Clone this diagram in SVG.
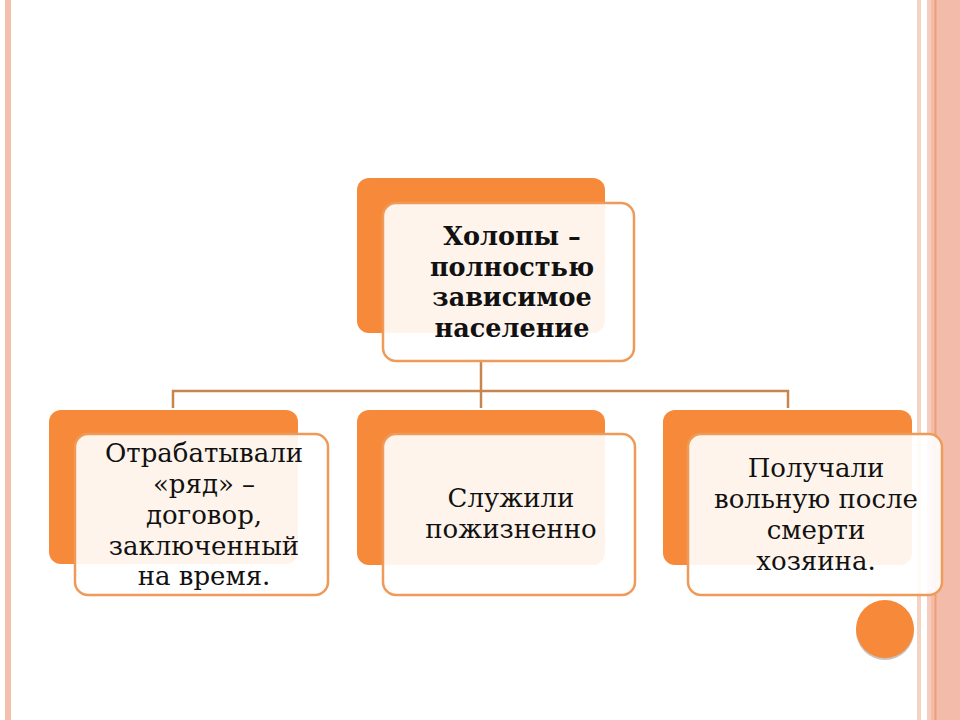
<svg xmlns="http://www.w3.org/2000/svg" width="960" height="720" viewBox="0 0 960 720">
<style>
.back{fill:#f68a3a}
.front{fill:#ffffff;fill-opacity:0.9;stroke:#ef9a58;stroke-width:2.5}
.t{font-family:"DejaVu Serif","Liberation Serif",serif;font-size:26px;fill:#111;text-anchor:middle}
.b{font-weight:bold;font-size:25.5px}
.conn{fill:none;stroke:#c8864f;stroke-width:2.5}
</style>
<rect width="960" height="720" fill="#ffffff"/>
<rect x="5" y="0" width="6" height="720" fill="#f4bfae"/>
<rect x="917" y="0" width="4" height="720" fill="#f6d2c3"/>
<rect x="927" y="0" width="33" height="720" fill="#f3bcaa"/>
<rect x="927" y="0" width="4" height="720" fill="#f6cdbd"/>
<rect x="934.5" y="0" width="2" height="720" fill="#ee9f75"/>
<g id="connectors">
<path class="conn" d="M481 361 V391 M173 408 V391 H788 V408 M481 391 V408"/>
</g>
<g id="n0">
<rect class="back" x="357" y="178" width="248" height="155" rx="12"/>
<rect class="front" x="383" y="203" width="251" height="158" rx="13"/>
<text class="t b" x="512"><tspan x="512" y="245">Холопы –</tspan><tspan x="512" y="276">полностью</tspan><tspan x="512" y="306">зависимое</tspan><tspan x="512" y="337">население</tspan></text>
</g>
<g id="n1">
<rect class="back" x="49" y="410" width="249" height="154" rx="12"/>
<rect class="front" x="75" y="434" width="253" height="161" rx="13"/>
<text class="t" x="204"><tspan x="204" y="462">Отрабатывали</tspan><tspan x="204" y="493">«ряд» –</tspan><tspan x="204" y="524">договор,</tspan><tspan x="204" y="555">заключенный</tspan><tspan x="204" y="585">на время.</tspan></text>
</g>
<g id="n2">
<rect class="back" x="357" y="410" width="248" height="155" rx="12"/>
<rect class="front" x="383" y="434" width="252" height="161" rx="13"/>
<text class="t" x="511"><tspan x="511" y="507">Служили</tspan><tspan x="511" y="538">пожизненно</tspan></text>
</g>
<g id="n3">
<rect class="back" x="663" y="410" width="249" height="155" rx="12"/>
<rect class="front" x="688" y="434" width="254" height="161" rx="13"/>
<text class="t" x="816"><tspan x="816" y="477">Получали</tspan><tspan x="816" y="508">вольную после</tspan><tspan x="816" y="539">смерти</tspan><tspan x="816" y="570">хозяина.</tspan></text>
</g>
<circle cx="885" cy="631" r="29" fill="#a99a90" opacity="0.6"/>
<circle cx="885" cy="629" r="29" fill="#f68a3a"/>
</svg>
